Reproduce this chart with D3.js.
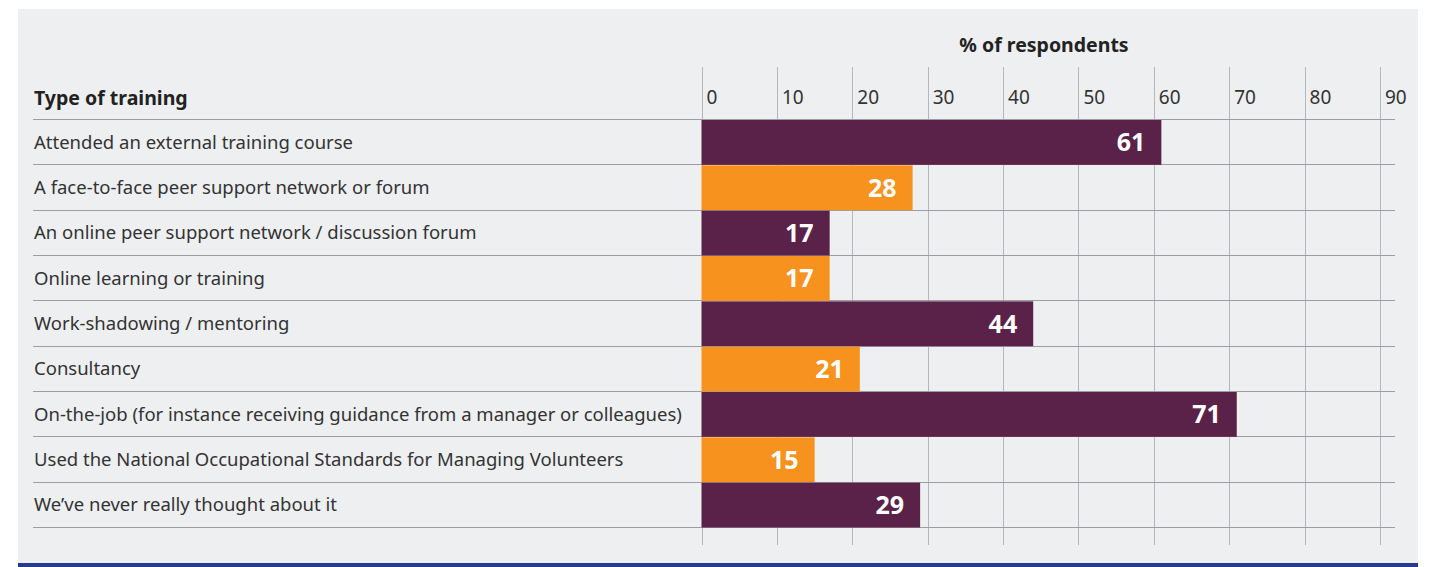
<!DOCTYPE html>
<html>
<head>
<meta charset="utf-8">
<script src="https://cdn.jsdelivr.net/npm/d3@7"></script>
<style>
  body { margin: 0; background: #fff; }
  text { font-family: "Noto Sans", "Open Sans", sans-serif; }
</style>
</head>
<body>
<div id="chart"></div>
<script>
const categories = [
    "Attended an external training course",
    "A face-to-face peer support network or forum",
    "An online peer support network / discussion forum",
    "Online learning or training",
    "Work-shadowing / mentoring",
    "Consultancy",
    "On-the-job (for instance receiving guidance from a manager or colleagues)",
    "Used the National Occupational Standards for Managing Volunteers",
    "We\u2019ve never really thought about it"
];
const values = [61, 28, 17, 17, 44, 21, 71, 15, 29];
const tickValues = [0, 10, 20, 30, 40, 50, 60, 70, 80, 90];
const barColors = ["#5b2249", "#f7921f"];

const width = 1429;
const height = 567;

const svg = d3.select("#chart")
    .append("svg")
    .attr("width", width)
    .attr("height", height);

// panel background + bottom rule
svg.append("rect")
    .attr("x", 18).attr("y", 9)
    .attr("width", 1400).attr("height", 554)
    .attr("fill", "#eeeff1");
svg.append("rect")
    .attr("x", 18).attr("y", 563)
    .attr("width", 1400).attr("height", 4)
    .attr("fill", "#263a8c");

const xScale = d3.scaleLinear()
    .domain([0, 90])
    .range([701.5, 1380]);

const yScale = d3.scaleBand()
    .domain(categories)
    .range([119, 527])
    .padding(0);

// vertical gridlines
svg.append("g")
    .selectAll("line")
    .data(tickValues)
    .join("line")
    .attr("x1", d => Math.round(xScale(d)) + 0.5)
    .attr("x2", d => Math.round(xScale(d)) + 0.5)
    .attr("y1", 67)
    .attr("y2", 545)
    .attr("stroke", "#b3b8bd")
    .attr("stroke-width", 1);

// tick labels
svg.append("g")
    .selectAll("text")
    .data(tickValues)
    .join("text")
    .attr("x", d => xScale(d) + 5)
    .attr("y", 104)
    .attr("font-size", 19)
    .attr("fill", "#333")
    .text(d => d);

// axis title
svg.append("text")
    .attr("x", 1044)
    .attr("y", 52)
    .attr("text-anchor", "middle")
    .attr("font-size", 19.5)
    .attr("font-weight", "bold")
    .attr("fill", "#222")
    .text("% of respondents");

// column header
svg.append("text")
    .attr("x", 34)
    .attr("y", 105)
    .attr("font-size", 19.5)
    .attr("font-weight", "bold")
    .attr("fill", "#222")
    .text("Type of training");

// horizontal row rules
const rules = [yScale.range()[0]].concat(categories.map(c => yScale(c) + yScale.bandwidth()));
svg.append("g")
    .selectAll("line")
    .data(rules)
    .join("line")
    .attr("x1", 33)
    .attr("x2", 1395)
    .attr("y1", d => Math.round(d) + 0.5)
    .attr("y2", d => Math.round(d) + 0.5)
    .attr("stroke", "#9b9ea2")
    .attr("stroke-width", 1.2);

// bars
svg.append("g")
    .selectAll("rect")
    .data(values)
    .join("rect")
    .attr("x", xScale(0))
    .attr("y", (d, i) => yScale(categories[i]) + 1)
    .attr("width", d => xScale(d) - xScale(0))
    .attr("height", yScale.bandwidth() - 0.5)
    .attr("fill", (d, i) => barColors[i % 2]);

// value labels
svg.append("g")
    .selectAll("text")
    .data(values)
    .join("text")
    .attr("x", d => xScale(d) - 16)
    .attr("y", (d, i) => yScale(categories[i]) + yScale.bandwidth() / 2 + 9.5)
    .attr("text-anchor", "end")
    .attr("font-size", 25)
    .attr("font-weight", "bold")
    .attr("fill", "#fff")
    .text(d => d);

// category labels
svg.append("g")
    .selectAll("text")
    .data(categories)
    .join("text")
    .attr("x", 34)
    .attr("y", d => yScale(d) + yScale.bandwidth() / 2 + 7)
    .attr("font-size", 18.5)
    .attr("fill", "#333")
    .text(d => d);
</script>
</body>
</html>
